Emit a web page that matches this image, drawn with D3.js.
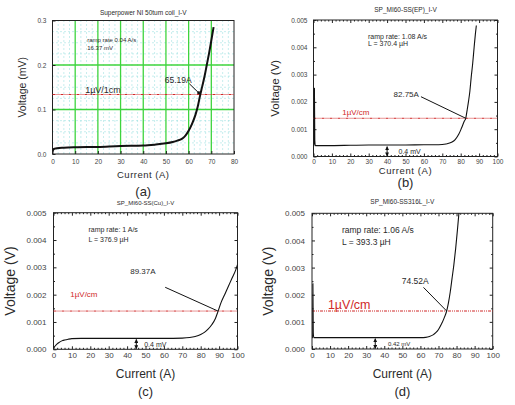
<!DOCTYPE html>
<html><head><meta charset="utf-8">
<script src="https://cdn.jsdelivr.net/npm/d3@7"></script>
<style>body{margin:0;background:#fff}svg{display:block;font-family:"Liberation Sans",Arial,sans-serif}</style>
</head><body><svg id="c" width="515" height="405"></svg>
<script>
// ---------- DATA ----------
// (a) Superpower NI 50tum coil
const aCurrent = [0, 0.5, 1, 2, 5, 10, 20, 30, 40, 45, 50, 53, 55, 57, 58, 59, 60, 61, 62, 63, 64, 65, 66, 67, 68, 69, 70, 71];
const aVoltage = [0.006, 0.011, 0.012, 0.013, 0.014, 0.015, 0.016, 0.018, 0.019, 0.021, 0.024, 0.027, 0.030, 0.034, 0.038, 0.044, 0.052, 0.062, 0.074, 0.088, 0.106, 0.130, 0.152, 0.174, 0.200, 0.226, 0.255, 0.285];
// (b) SP_MI60-SS(EP)
const bCurrent = [0, 0.4, 0.5, 0.7, 1, 10, 20, 30, 40, 50, 60, 68, 72, 75, 77, 79, 80.5, 82, 82.75, 83.5, 84.2, 85, 85.7, 86.5, 87.3, 88, 88.5];
const bVoltage = [0.0004, 0.0004, 0.0025, 0.0006, 0.0004, 0.0004, 0.00041, 0.00042, 0.00042, 0.00042, 0.00043, 0.00043, 0.00046, 0.00052, 0.00062, 0.00082, 0.00105, 0.0013, 0.0014, 0.0017, 0.0020, 0.0024, 0.0029, 0.0034, 0.0040, 0.0045, 0.0048];
// (c) SP_MI60-SS(Cu)
const cCurrent = [0, 1, 2, 3, 4, 5, 6, 8, 10, 15, 20, 30, 40, 50, 60, 70, 74, 77, 80, 82, 84, 86, 88, 89.37, 91, 93, 95, 97, 99, 100];
const cVoltage = [0.00005, 0.00013, 0.0002, 0.00025, 0.00029, 0.00032, 0.00034, 0.00037, 0.00039, 0.0004, 0.0004, 0.0004, 0.0004, 0.0004, 0.0004, 0.00041, 0.00043, 0.00047, 0.00054, 0.00062, 0.00074, 0.0009, 0.00113, 0.00138, 0.0017, 0.0020, 0.0023, 0.0026, 0.0029, 0.0031];
// (d) SP_MI60-SS316L
const dCurrent = [0, 0.4, 0.5, 0.7, 1, 10, 20, 30, 40, 50, 60, 63, 65, 67, 68.5, 70, 71.5, 73, 74.52, 75.5, 76.5, 77.5, 78.5, 79.5, 80.5, 81.3];
const dVoltage = [0.00042, 0.00042, 0.0024, 0.0006, 0.00042, 0.00042, 0.00042, 0.00042, 0.00042, 0.00042, 0.00042, 0.00043, 0.00046, 0.00052, 0.0006, 0.00072, 0.0009, 0.00112, 0.0014, 0.0017, 0.0021, 0.0026, 0.0031, 0.0037, 0.0044, 0.0050];

// tick labels
const aXTicks = [0, 10, 20, 30, 40, 50, 60, 70, 80];
const aYTicks = [0, 0.1, 0.2, 0.3];
const xTicks100 = [0, 10, 20, 30, 40, 50, 60, 70, 80, 90, 100];
const yTicksV = [0, 0.001, 0.002, 0.003, 0.004, 0.005];

// titles and annotations
const titles = ["Superpower NI 50tum coil_I-V", "SP_MI60-SS(EP)_I-V", "SP_MI60-SS(Cu)_I-V", "SP_MI60-SS316L_I-V"];
const panelLabels = ["(a)", "(b)", "(c)", "(d)"];
const yTitles = ["Voltage (mV)", "Voltage (V)", "Voltage (V)", "Voltage (V)"];
const rampTexts = [["ramp rate 0.04 A/s", "16.37 mV"], ["ramp rate: 1.08 A/s", "L = 370.4 \u00b5H"], ["ramp rate: 1 A/s", "L = 376.9 \u00b5H"], ["ramp rate: 1.06 A/s", "L = 393.3 \u00b5H"]];
const criticalCurrents = [65.19, 82.75, 89.37, 74.52];
const criticalLabels = ["65.19A", "82.75A", "89.37A", "74.52A"];
const thresholds = [0.1337, 0.0014, 0.0014, 0.0014];
const thresholdLabels = ["1\u00b5V/1cm", "1\u00b5V/cm", "1\u00b5V/cm", "1\u00b5V/cm"];
const baselineLabels = [null, "0.4 mV", "0.4 mV", "0.42 mV"];
const baselineAt = [null, 40, 45, 35];
const baselineLevel = [null, 0.0004, 0.0004, 0.00042];

// ---------- DRAW ----------
const svg = d3.select("#c");
const defs = svg.append("defs");
defs.append("marker").attr("id", "ah").attr("viewBox", "0 0 10 10").attr("refX", 9).attr("refY", 5)
  .attr("markerWidth", 4).attr("markerHeight", 4).attr("orient", "auto-start-reverse")
  .append("path").attr("d", "M0,0L10,5L0,10z").attr("fill", "#111");

const TXT = "#2a2a2a";
const RED = "#d02a2a";

function drawPanel(p) {
  const g = svg.append("g");
  const x = d3.scaleLinear().domain(p.xDomain).range([p.left, p.right]);
  const y = d3.scaleLinear().domain(p.yDomain).range([p.bottom, p.top]);

  if (p.grid) {
    const xm = d3.range(p.xDomain[0], p.xDomain[1] + 0.001, 2.5).filter(v => v % 10 !== 0);
    const ym = d3.range(p.yDomain[0], p.yDomain[1] + 1e-9, 0.025).filter(v => Math.abs(v * 10 - Math.round(v * 10)) > 1e-6);
    g.selectAll(".xm").data(xm).join("line").attr("x1", d => x(d)).attr("x2", d => x(d))
      .attr("y1", p.top).attr("y2", p.bottom).attr("stroke", "#8fdcdc").attr("stroke-width", 1).attr("stroke-dasharray", "1,3");
    g.selectAll(".ym").data(ym).join("line").attr("y1", d => y(d)).attr("y2", d => y(d))
      .attr("x1", p.left).attr("x2", p.right).attr("stroke", "#8fdcdc").attr("stroke-width", 1).attr("stroke-dasharray", "1,3");
    g.selectAll(".xg").data(p.xTicks.slice(1, -1)).join("line").attr("x1", d => x(d)).attr("x2", d => x(d))
      .attr("y1", p.top).attr("y2", p.bottom).attr("stroke", "#3ed43e").attr("stroke-width", 1.3);
    g.selectAll(".yg").data(p.yTicks.slice(1, -1)).join("line").attr("y1", d => y(d)).attr("y2", d => y(d))
      .attr("x1", p.left).attr("x2", p.right).attr("stroke", "#3ed43e").attr("stroke-width", 1.3);
  }

  // axes
  const fmtY = d3.format(p.yFmt);
  const ax = (axis, tr) => {
    const a = g.append("g").attr("transform", tr).call(axis);
    a.select(".domain").remove();
    a.selectAll("line").attr("stroke", "#222");
    a.selectAll("text").attr("fill", "#444").attr("font-family", "'Liberation Sans',Arial,sans-serif");
    return a;
  };
  ax(d3.axisBottom(x).tickValues(p.xTicks).tickSize(-3).tickPadding(p.xPad).tickFormat(d3.format("d")), `translate(0,${p.bottom})`)
    .selectAll("text").attr("font-size", p.tickFs);
  ax(d3.axisLeft(y).tickValues(p.yTicks).tickSize(-3).tickPadding(p.yPad).tickFormat(fmtY), `translate(${p.left},0)`)
    .selectAll("text").attr("font-size", p.tickFs);
  if (!p.grid) {
    ax(d3.axisTop(x).tickValues(p.xTicks).tickSize(-3).tickFormat(""), `translate(0,${p.top})`);
    ax(d3.axisRight(y).tickValues(p.yTicks).tickSize(-3).tickFormat(""), `translate(${p.right},0)`);
    const xmin = d3.range(p.xDomain[0], p.xDomain[1] + 0.001, 2).filter(v => v % 10 !== 0);
    const ymin = d3.range(p.yDomain[0], p.yDomain[1] + 1e-9, 0.0005).filter(v => Math.abs(v * 1000 - Math.round(v * 1000)) > 1e-6);
    ax(d3.axisBottom(x).tickValues(xmin).tickSize(-1.5).tickFormat(""), `translate(0,${p.bottom})`);
    ax(d3.axisTop(x).tickValues(xmin).tickSize(-1.5).tickFormat(""), `translate(0,${p.top})`);
    ax(d3.axisLeft(y).tickValues(ymin).tickSize(-1.5).tickFormat(""), `translate(${p.left},0)`);
    ax(d3.axisRight(y).tickValues(ymin).tickSize(-1.5).tickFormat(""), `translate(${p.right},0)`);
  }
  g.append("rect").attr("x", p.left).attr("y", p.top).attr("width", p.right - p.left).attr("height", p.bottom - p.top)
    .attr("fill", "none").attr("stroke", "#222").attr("stroke-width", 1);

  // threshold line
  g.append("line").attr("x1", x(p.xDomain[0])).attr("x2", x(p.xDomain[1])).attr("y1", y(p.threshold)).attr("y2", y(p.threshold))
    .attr("stroke", RED).attr("stroke-width", 1).attr("stroke-dasharray", "3,1,1,1,1,1");

  // curve
  const pts = p.xs.map((v, i) => [v, p.ys[i]]);
  const clipId = "clip" + p.idx;
  defs.append("clipPath").attr("id", clipId).append("rect").attr("x", p.left).attr("y", p.top - 1)
    .attr("width", p.right - p.left).attr("height", p.bottom - p.top + 1);
  g.append("path").datum(pts).attr("clip-path", `url(#${clipId})`)
    .attr("d", d3.line().x(d => x(d[0])).y(d => y(d[1])).curve(d3.curveMonotoneX))
    .attr("fill", "none").attr("stroke", "#111").attr("stroke-width", p.lw);

  // texts
  const t = (str, xv, yv, fs, col, anchor) => g.append("text").attr("x", x(xv)).attr("y", y(yv)).text(str)
    .attr("font-size", fs).attr("fill", col || TXT).attr("text-anchor", anchor || "start");
  t(p.ramp[0], p.rampPos[0], p.rampPos[1], p.rampFs);
  t(p.ramp[1], p.rampPos[0], p.rampPos[2], p.rampFs);
  t(p.thrLabel, p.thrLabelPos[0], p.thrLabelPos[1], p.thrFs, p.thrCol);
  t(p.icLabel, p.icPos[0], p.icPos[1], p.icFs);
  g.append("line").attr("x1", x(p.arrowFrom[0])).attr("y1", y(p.arrowFrom[1]))
    .attr("x2", x(p.ic)).attr("y2", y(p.threshold)).attr("stroke", "#111").attr("stroke-width", 1)
    .attr("marker-end", p.grid ? "url(#ah)" : null);
  if (p.baseLabel) {
    g.append("line").attr("x1", x(p.baseAt)).attr("x2", x(p.baseAt)).attr("y1", y(p.baseLevel) + 1).attr("y2", y(0) - 0.5)
      .attr("stroke", "#111").attr("stroke-width", 1).attr("marker-start", "url(#ah)").attr("marker-end", "url(#ah)");
    t(p.baseLabel, p.baseLabelPos[0], p.baseLabelPos[1], p.baseFs);
  }

  // titles
  g.append("text").attr("x", (p.left + p.right) / 2).attr("y", p.titleY).attr("text-anchor", "middle")
    .attr("font-size", p.titleFs).attr("fill", TXT).text(p.title);
  g.append("text").attr("x", (p.left + p.right) / 2).attr("y", p.xTitleY).attr("text-anchor", "middle")
    .attr("font-size", p.axFs).attr("fill", TXT).attr("letter-spacing", p.xTitleLs).text("Current (A)");
  g.append("text").attr("transform", `translate(${p.yTitleX},${(p.top + p.bottom) / 2}) rotate(-90)`)
    .attr("text-anchor", "middle").attr("font-size", p.yAxFs).attr("fill", TXT).text(p.yTitle);
  g.append("text").attr("x", (p.left + p.right) / 2).attr("y", p.labelY).attr("text-anchor", "middle")
    .attr("font-size", 13).attr("fill", TXT).text(p.label);
}

const panels = [
  { idx: 0, left: 52.5, right: 234, top: 20.5, bottom: 154, xDomain: [0, 80], yDomain: [0, 0.3], xTicks: aXTicks, yTicks: aYTicks,
    yFmt: ".1f", grid: true, xs: aCurrent, ys: aVoltage, lw: 2, tickFs: 6.5, xPad: 5, yPad: 6,
    ramp: rampTexts[0], rampPos: [15.3, 0.251, 0.233], rampFs: 6,
    thrLabel: thresholdLabels[0], thrLabelPos: [14.4, 0.137], thrFs: 9, thrCol: TXT,
    ic: criticalCurrents[0], threshold: thresholds[0],
    icLabel: criticalLabels[0], icPos: [49.5, 0.160], icFs: 8.5, arrowFrom: [60.3, 0.158],
    title: titles[0], titleY: 15, titleFs: 6.5, xTitleY: 178, axFs: 9.5, xTitleLs: 0.5, yTitleX: 26, yAxFs: 10.5, yTitle: yTitles[0], labelY: 196, label: panelLabels[0] },
  { idx: 1, left: 313.5, right: 497.5, top: 20, bottom: 156.5, xDomain: [0, 100], yDomain: [0, 0.005], xTicks: xTicks100, yTicks: yTicksV,
    yFmt: ".3f", grid: false, xs: bCurrent, ys: bVoltage, lw: 1.1, tickFs: 6.5, xPad: 3, yPad: 6,
    ramp: rampTexts[1], rampPos: [29.6, 0.00432, 0.00404], rampFs: 7,
    thrLabel: thresholdLabels[1], thrLabelPos: [15.6, 0.00153], thrFs: 8, thrCol: RED,
    ic: criticalCurrents[1], threshold: thresholds[1],
    icLabel: criticalLabels[1], icPos: [43.5, 0.00217], icFs: 8, arrowFrom: [58.4, 0.00219],
    baseLabel: baselineLabels[1], baseAt: baselineAt[1], baseLevel: baselineLevel[1], baseLabelPos: [46.2, 0.0001], baseFs: 7,
    title: titles[1], titleY: 12, titleFs: 6.5, xTitleY: 173.5, axFs: 9.5, xTitleLs: 0.6, yTitleX: 279, yAxFs: 11.5, yTitle: yTitles[1], labelY: 187, label: panelLabels[1] },
  { idx: 2, left: 53.5, right: 237.5, top: 212.7, bottom: 349.3, xDomain: [0, 100], yDomain: [0, 0.005], xTicks: xTicks100, yTicks: yTicksV,
    yFmt: ".3f", grid: false, xs: cCurrent, ys: cVoltage, lw: 1.1, tickFs: 8, xPad: 3, yPad: 7,
    ramp: rampTexts[2], rampPos: [19.0, 0.00428, 0.00391], rampFs: 7,
    thrLabel: thresholdLabels[2], thrLabelPos: [9.1, 0.00191], thrFs: 8, thrCol: RED,
    ic: criticalCurrents[2], threshold: thresholds[2],
    icLabel: criticalLabels[2], icPos: [41.7, 0.00276], icFs: 8, arrowFrom: [60.7, 0.00227],
    baseLabel: baselineLabels[2], baseAt: baselineAt[2], baseLevel: baselineLevel[2], baseLabelPos: [49.3, 0.0001], baseFs: 7,
    title: titles[2], titleY: 205, titleFs: 6, xTitleY: 378, axFs: 12, xTitleLs: 0, yTitleX: 15, yAxFs: 14, yTitle: yTitles[2], labelY: 396, label: panelLabels[2] },
  { idx: 3, left: 312, right: 492.7, top: 213.3, bottom: 349, xDomain: [0, 100], yDomain: [0, 0.005], xTicks: xTicks100, yTicks: yTicksV,
    yFmt: ".3f", grid: false, xs: dCurrent, ys: dVoltage, lw: 1.1, tickFs: 8, xPad: 3, yPad: 7,
    ramp: rampTexts[3], rampPos: [16.6, 0.00426, 0.00385], rampFs: 8.5,
    thrLabel: thresholdLabels[3], thrLabelPos: [8.8, 0.00148], thrFs: 12.5, thrCol: RED,
    ic: criticalCurrents[3], threshold: thresholds[3],
    icLabel: criticalLabels[3], icPos: [49.7, 0.00238], icFs: 8.5, arrowFrom: [61.7, 0.00227],
    baseLabel: baselineLabels[3], baseAt: baselineAt[3], baseLevel: baselineLevel[3], baseLabelPos: [42, 0.0001], baseFs: 6,
    title: titles[3], titleY: 204, titleFs: 6.5, xTitleY: 378, axFs: 12, xTitleLs: 0, yTitleX: 273, yAxFs: 14, yTitle: yTitles[3], labelY: 396, label: panelLabels[3] }
];
panels.forEach(drawPanel);
</script>
</body></html>
